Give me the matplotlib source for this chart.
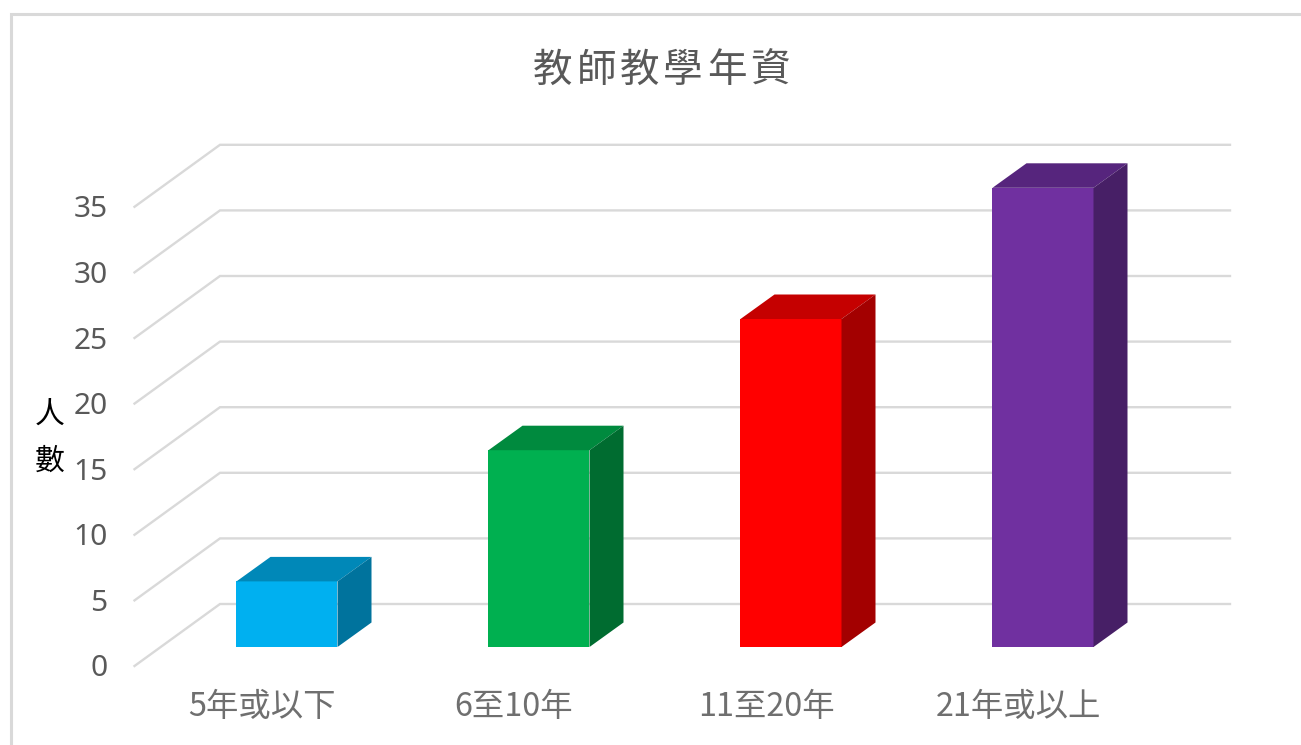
import matplotlib
matplotlib.use("Agg")
import matplotlib.pyplot as plt
from matplotlib.lines import Line2D

plt.rcParams['font.family'] = ['Noto Sans CJK TC', 'DejaVu Sans']

categories = ["5年或以下", "6至10年", "11至20年", "21年或以上"]
teachers = [5, 15, 25, 35]
ticks = [0, 5, 10, 15, 20, 25, 30, 35]
title_chars = ["教", "師", "教", "學", "年", "資"]
front_colors = ["#00B0F0", "#00B050", "#FF0000", "#7030A0"]
top_colors = ["#0088B8", "#008A3E", "#C50000", "#56257D"]
side_colors = ["#00739D", "#006C30", "#A30000", "#471F66"]

# scale of the picture: one category = 252 px, one person = 13.12 px
px_x = 252.0
px_y = 13.12
x0 = 287.0
y0 = 666.0

bar_w = 101 / px_x
depth_x = 34 / px_x
depth_y = 24.5 / px_y
base = 19 / px_y
wall_front = -152.5 / px_x
wall_back = -67 / px_x
wall_right = 943 / px_x
wall_dy = 62 / px_y

fig = plt.figure(figsize=(13.01, 7.45), dpi=100)
ax = fig.add_axes([0, 0, 1, 1])
ax.set_xlim(-x0 / px_x, (1301 - x0) / px_x)
ax.set_ylim((y0 - 745) / px_y, y0 / px_y)
ax.axis("off")

# chart frame, only left and top are in the picture
fig.add_artist(Line2D([11 / 1301, 11 / 1301, 1], [0, 1 - 14 / 745, 1 - 14 / 745],
                      color="#d9d9d9", lw=2.2, solid_joinstyle="miter"))

for t in ticks:
    ax.plot([wall_front, wall_back, wall_right], [t, t + wall_dy, t + wall_dy],
            color="#d9d9d9", lw=1.7, zorder=1, solid_joinstyle="miter")
    ax.text(-179.5 / px_x, t - 3 / px_y, str(t), ha="right", va="center", fontsize=21.5,
            color="#595959", family=["Noto Sans", "DejaVu Sans"])

for i in range(len(teachers)):
    v = teachers[i]
    l = i - bar_w / 2
    r = i + bar_w / 2
    b = base
    h = base + v
    ax.fill([l, r, r, l], [b, b, h, h], color=front_colors[i], lw=0, zorder=3)
    ax.fill([l, r, r + depth_x, l + depth_x], [h, h, h + depth_y, h + depth_y],
            color=top_colors[i], lw=0, zorder=3)
    ax.fill([r, r + depth_x, r + depth_x, r], [b, b + depth_y, h + depth_y, h],
            color=side_colors[i], lw=0, zorder=3)
    ax.text(i - 25 / px_x, (y0 - 707) / px_y, categories[i], ha="center", va="center",
            fontsize=23.3, color="#6f6f6f", fontweight="light")

for i in range(len(title_chars)):
    ax.text((553 + 43.4 * i - x0) / px_x, (y0 - 71) / px_y, title_chars[i],
            ha="center", va="center", fontsize=28.5, color="#595959", fontweight="light")

ax.text((50 - x0) / px_x, (y0 - 414) / px_y, "人", ha="center", va="center", fontsize=21.5, color="black")
ax.text((50 - x0) / px_x, (y0 - 461) / px_y, "數", ha="center", va="center", fontsize=21.5, color="black")

fig.savefig("out.png", dpi=100)
